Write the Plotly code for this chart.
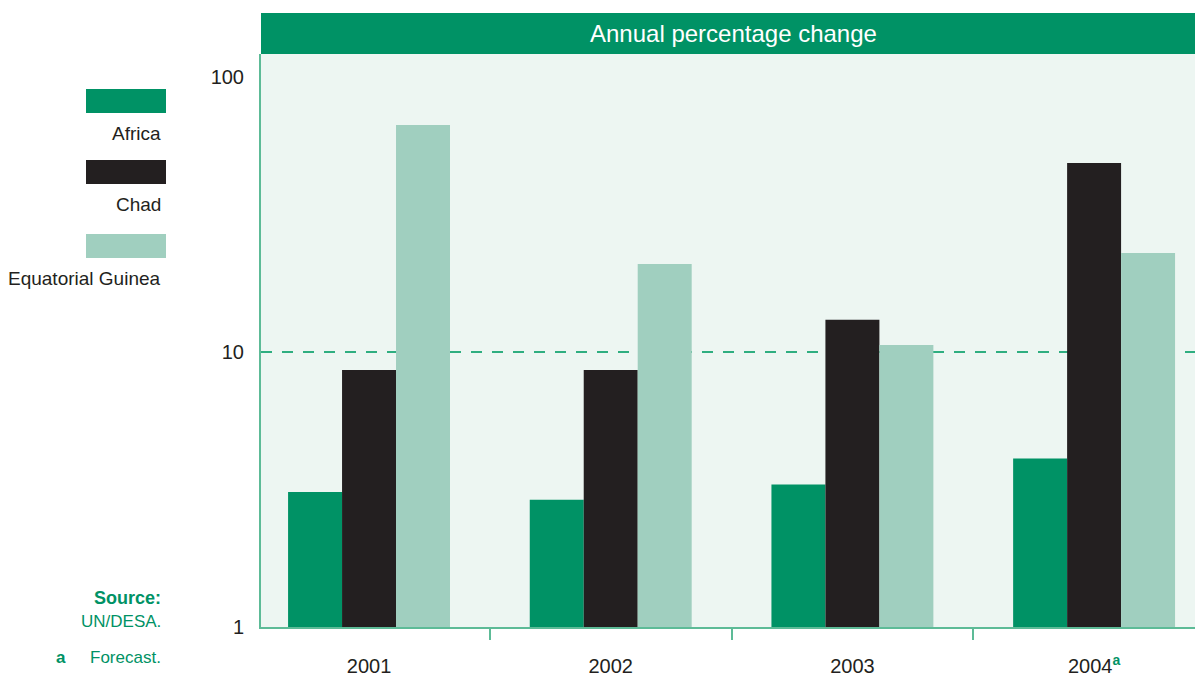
import plotly.graph_objects as go

# ---- data ----
years = ["2001", "2002", "2003", "2004"]
year_notes = ["", "", "", "a"]
africa = [3.1, 2.9, 3.3, 4.1]
chad = [8.6, 8.6, 13.1, 48.7]
eq_guinea = [66.9, 20.9, 10.6, 22.9]
series_names = ["Africa", "Chad", "Equatorial Guinea"]
series_values = [africa, chad, eq_guinea]
series_colors = ["#009265", "#231F20", "#A0CFBF"]
y_ticks = [1, 10, 100]
reference_level = 10

# ---- layout geometry (pixels) ----
W, H = 1195, 673
L, R, T, B = 261, 0, 54, 46
PW, PH = W - L - R, H - T - B


def px_x(px):
    return (px - L) / PW


def px_y(py):
    return (H - B - py) / PH


FONT = "Liberation Sans, Arial, sans-serif"
GREEN = "#009265"
AXIS_GREEN = "#5DBB97"
DARK = "#231F20"

xs = list(range(len(years)))
fig = go.Figure()
for name, vals, col in zip(series_names, series_values, series_colors):
    fig.add_trace(go.Bar(x=xs, y=vals, name=name, marker=dict(color=col, line=dict(width=0)),
                         showlegend=False))

ticktext = [y if not n else f"{y}<sup><span style='color:{GREEN}'><b>{n}</b></span></sup>"
            for y, n in zip(years, year_notes)]

fig.update_layout(
    width=W, height=H,
    margin=dict(l=L, r=R, t=T, b=B, pad=0, autoexpand=False),
    paper_bgcolor="white",
    plot_bgcolor="#EDF6F2",
    barmode="group",
    bargap=0.33,
    bargroupgap=0,
    font=dict(family=FONT, size=20, color=DARK),
    xaxis=dict(
        range=[-0.447, 3.4175],
        tickmode="array", tickvals=xs, ticktext=ticktext,
        ticks="", showgrid=False, zeroline=False, automargin=False,
        showline=True, linecolor=AXIS_GREEN, linewidth=2,
        ticklabelstandoff=20,
        tickfont=dict(size=20, color=DARK),
        minor=dict(tickmode="array", tickvals=[x + 0.5 for x in xs[:-1]],
                   ticks="outside", ticklen=11, tickwidth=1.5, tickcolor=AXIS_GREEN,
                   showgrid=False),
    ),
    yaxis=dict(
        type="log",
        range=[0, (H - B - T) / 275],
        tickmode="array", tickvals=y_ticks, ticktext=[str(v) for v in y_ticks],
        ticks="", showgrid=False, zeroline=False, automargin=False,
        showline=True, linecolor=AXIS_GREEN, linewidth=2,
        ticklabelstandoff=11,
        tickfont=dict(size=20, color=DARK),
    ),
)

shapes = []
# reference dashed line at 10
shapes.append(dict(type="line", xref="paper", x0=0, x1=1, yref="y",
                   y0=reference_level, y1=reference_level, layer="below",
                   line=dict(color="#2FAE80", width=2, dash="11px,10px")))
# header band
shapes.append(dict(type="rect", xref="paper", yref="paper", x0=0, x1=1,
                   y0=1, y1=px_y(13), fillcolor=GREEN, line=dict(width=0)))

annotations = [dict(text="Annual percentage change", xref="paper", yref="paper",
                    x=px_x(733), y=px_y(33.5), xanchor="center", yanchor="middle",
                    showarrow=False, font=dict(family=FONT, size=24, color="white"))]

# custom legend: swatch above, label below (right aligned)
legend_swatch_tops = [89, 160, 234]
for name, col, top in zip(series_names, series_colors, legend_swatch_tops):
    shapes.append(dict(type="rect", xref="paper", yref="paper",
                       x0=px_x(86), x1=px_x(166), y0=px_y(top + 24), y1=px_y(top),
                       fillcolor=col, line=dict(width=0)))
    annotations.append(dict(text=name, xref="paper", yref="paper",
                            x=px_x(163), y=px_y(top + 44), xanchor="right", yanchor="middle",
                            showarrow=False, font=dict(family=FONT, size=19, color=DARK)))

# source notes
annotations += [
    dict(text="<b>Source:</b>", xref="paper", yref="paper", x=px_x(163), y=px_y(598),
         xanchor="right", yanchor="middle", showarrow=False,
         font=dict(family=FONT, size=18, color=GREEN)),
    dict(text="UN/DESA.", xref="paper", yref="paper", x=px_x(163), y=px_y(621),
         xanchor="right", yanchor="middle", showarrow=False,
         font=dict(family=FONT, size=17, color=GREEN)),
    dict(text="<b>a</b>", xref="paper", yref="paper", x=px_x(61), y=px_y(657),
         xanchor="center", yanchor="middle", showarrow=False,
         font=dict(family=FONT, size=17, color=GREEN)),
    dict(text="Forecast.", xref="paper", yref="paper", x=px_x(163), y=px_y(657),
         xanchor="right", yanchor="middle", showarrow=False,
         font=dict(family=FONT, size=17, color=GREEN)),
]

fig.update_layout(shapes=shapes, annotations=annotations)
fig.write_html("out.html", config={"displayModeBar": False},
               post_script="document.body.style.margin='0';document.body.style.overflow='hidden';")
